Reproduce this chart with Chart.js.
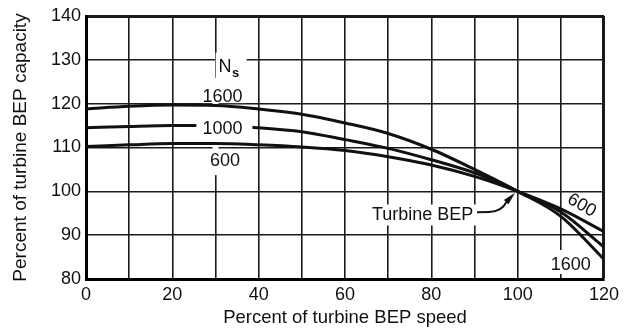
<!DOCTYPE html>
<html><head><meta charset="utf-8">
<script src="https://cdn.jsdelivr.net/npm/chart.js@4/dist/chart.umd.min.js"></script>
<style>html,body{margin:0;padding:0;background:#fff}#wrap{width:624px;height:335px}</style>
</head><body><div id="wrap"><canvas id="c" width="624" height="335"></canvas></div>
<script>
// ---- data ----
const speeds = [0, 10, 20, 30, 40, 50, 60, 70, 80, 90, 100, 110, 120];
const capacityNs1600 = [118.8, 119.4, 119.7, 119.6, 118.8, 117.6, 115.6, 113.2, 109.6, 105.0, 100, 94.3, 84.5];
const capacityNs1000 = [114.5, 114.8, 115.0, 115.0, 114.5, 113.6, 111.8, 109.8, 107.2, 104.2, 100, 95.3, 87.3];
const capacityNs600  = [110.2, 110.6, 110.9, 110.9, 110.6, 110.1, 109.3, 107.9, 106.0, 103.4, 100, 96.0, 90.8];
const seriesNames = ['1600', '1000', '600'];
const xTickLabels = [0, 20, 40, 60, 80, 100, 120];
const yTickLabels = [80, 90, 100, 110, 120, 130, 140];
const xTitle = 'Percent of turbine BEP speed';
const yTitle = 'Percent of turbine BEP capacity';
const bepLabel = 'Turbine BEP';
const nsLabel = ['N', 's'];

const FONT = '"Liberation Sans", Arial, sans-serif';
const INK = '#111';

function toPts(vals) { return speeds.map((s, i) => ({ x: s, y: vals[i] })); }

function P(chart, x, y) {
  return [chart.scales.x.getPixelForValue(x), chart.scales.y.getPixelForValue(y)];
}
function boxedText(ctx, text, cx, cy, size, pad) {
  ctx.font = size + 'px ' + FONT;
  const w = ctx.measureText(text).width;
  const h = size * 0.72;
  if (pad) {
    ctx.fillStyle = '#fff';
    ctx.fillRect(cx - w / 2 - pad[0], cy - h / 2 - pad[2], w + pad[0] + pad[1], h + pad[2] + pad[3]);
  }
  ctx.fillStyle = INK;
  ctx.textAlign = 'center';
  ctx.textBaseline = 'middle';
  ctx.fillText(text, cx, cy + 0.5);
}

const annotations = {
  id: 'annotations',
  beforeDatasetsDraw(chart) {
    const ctx = chart.ctx;
    ctx.save();
    // gap in the x=30 grid line behind the Ns label column
    const [gx, gy1] = P(chart, 30, 125.9);
    const [, gy2] = P(chart, 30, 103.7);
    ctx.fillStyle = '#fff';
    ctx.fillRect(gx - 3, gy1, 6, gy2 - gy1);
    // Ns label
    const [nx, ny] = P(chart, 33.5, 127.3);
    ctx.fillStyle = '#fff';
    ctx.fillRect(nx - 15, ny - 19, 31, 27);
    ctx.fillStyle = INK;
    ctx.textBaseline = 'alphabetic';
    ctx.font = '18px ' + FONT;
    ctx.textAlign = 'right';
    ctx.fillText(nsLabel[0], nx + 1, ny);
    ctx.font = 'bold 13px ' + FONT;
    ctx.textAlign = 'left';
    ctx.fillText(nsLabel[1], nx + 1.5, ny + 5);
    // upper series labels
    let [x, y] = P(chart, 31.6, 121.6);
    boxedText(ctx, seriesNames[0], x, y, 18, [3, 3, 2, 0]);
    [x, y] = P(chart, 32.2, 107.1);
    boxedText(ctx, seriesNames[2], x, y, 18, [3, 3, 1, 2]);
    // Turbine BEP label
    [x, y] = P(chart, 78.0, 94.6);
    boxedText(ctx, bepLabel, x, y, 18, [3, 3, 4, 4]);
    // lower-right 1600 label
    [x, y] = P(chart, 112.3, 83.3);
    boxedText(ctx, seriesNames[0], x, y, 18, [3, 3, 8, 3]);
    // rotated 600 label
    [x, y] = P(chart, 114.9, 96.9);
    ctx.save();
    ctx.translate(x, y);
    ctx.rotate(30 * Math.PI / 180);
    boxedText(ctx, seriesNames[2], 0, 0, 18, null);
    ctx.restore();
    ctx.restore();
  },
  afterDatasetsDraw(chart) {
    const ctx = chart.ctx;
    ctx.save();
    let [x, y] = P(chart, 31.6, 114.3);
    boxedText(ctx, seriesNames[1], x, y, 18, [6, 10, 2, 2]);
    // leader line to the BEP point
    const p0 = P(chart, 90.6, 95.2), p1 = P(chart, 93.4, 95.3), c = P(chart, 96.4, 95.4),
          p2 = P(chart, 97.4, 97.6), tip = P(chart, 99.4, 99.7);
    ctx.strokeStyle = INK;
    ctx.lineWidth = 2;
    ctx.beginPath();
    ctx.moveTo(p0[0], p0[1]);
    ctx.lineTo(p1[0], p1[1]);
    ctx.quadraticCurveTo(c[0], c[1], p2[0], p2[1]);
    ctx.stroke();
    const dx = tip[0] - p2[0], dy = tip[1] - p2[1];
    const L = Math.hypot(dx, dy), ux = dx / L, uy = dy / L;
    const bx = tip[0] - ux * 13, by = tip[1] - uy * 13;
    ctx.fillStyle = INK;
    ctx.beginPath();
    ctx.moveTo(tip[0], tip[1]);
    ctx.lineTo(bx - uy * 3.2, by + ux * 3.2);
    ctx.lineTo(bx + uy * 3.2, by - ux * 3.2);
    ctx.closePath();
    ctx.fill();
    ctx.restore();
  }
};

const lineStyle = { borderColor: INK, borderWidth: 3, pointRadius: 0, fill: false, cubicInterpolationMode: 'monotone' };

new Chart(document.getElementById('c'), {
  type: 'line',
  data: {
    datasets: [
      Object.assign({ label: seriesNames[0], data: toPts(capacityNs1600) }, lineStyle),
      Object.assign({ label: seriesNames[1], data: toPts(capacityNs1000) }, lineStyle),
      Object.assign({ label: seriesNames[2], data: toPts(capacityNs600) }, lineStyle)
    ]
  },
  plugins: [annotations],
  options: {
    responsive: false,
    animation: false,
    events: [],
    layout: { padding: { left: 0, top: 16, right: 17, bottom: 0 } },
    plugins: { legend: { display: false }, tooltip: { enabled: false } },
    scales: {
      x: {
        type: 'linear', min: 0, max: 120,
        ticks: {
          stepSize: 10, autoSkip: false, maxRotation: 0, padding: 5, color: INK,
          font: { family: FONT, size: 18 },
          callback: v => xTickLabels.includes(v) ? String(v) : ''
        },
        grid: {
          drawTicks: false, color: '#1a1a1a',
          lineWidth: c => (c.tick && c.tick.value === 120) ? 3 : 1.6
        },
        border: { display: true, color: '#000', width: 3 },
        title: { display: true, text: xTitle, color: INK, font: { family: FONT, size: 18.5 }, padding: { top: 0, bottom: 6 } },
        afterFit: s => { s.height = 56; }
      },
      y: {
        type: 'linear', min: 80, max: 140,
        ticks: {
          stepSize: 10, autoSkip: false, padding: 5, color: INK,
          font: { family: FONT, size: 18 },
          callback: v => yTickLabels.includes(v) ? String(v) : ''
        },
        grid: {
          drawTicks: false, color: '#1a1a1a',
          lineWidth: c => (c.tick && c.tick.value === 140) ? 3 : 1.6
        },
        border: { display: true, color: '#000', width: 3 },
        title: { display: true, text: yTitle, color: INK, font: { family: FONT, size: 19 }, padding: { top: 9, bottom: 0 } },
        afterFit: s => { s.width = 86; }
      }
    }
  }
});
</script>
</body></html>
